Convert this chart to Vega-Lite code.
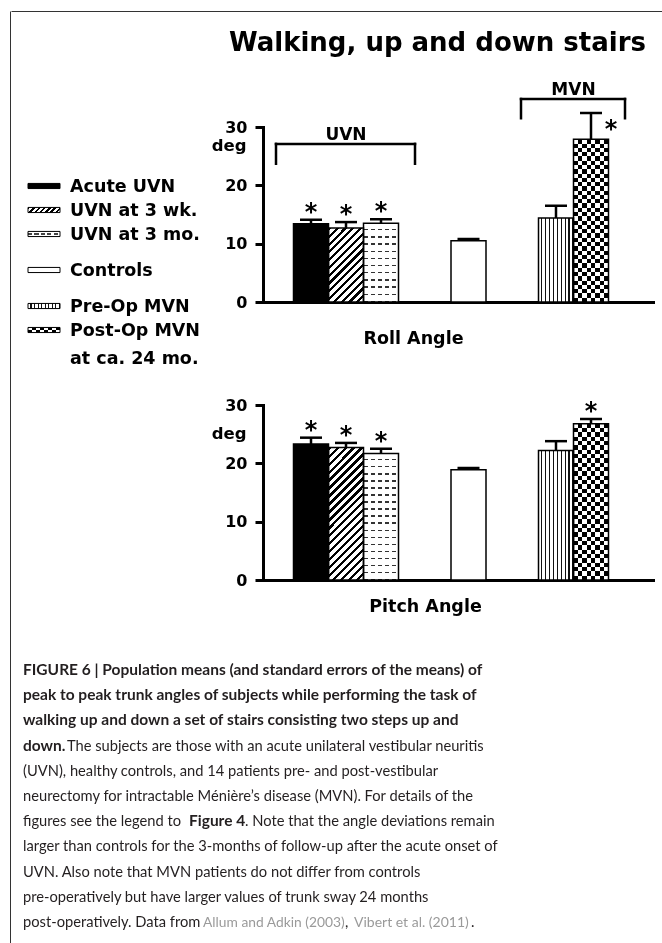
{
"$schema":"https://vega.github.io/schema/vega-lite/v6.json",
"background":"white",
"padding":{"left":9,"top":10,"right":0,"bottom":0},
"bounds":"flush",
"spacing":0,
"config":{"view":{"stroke":null},"axis":{"grid":false}},
"datasets":{
"bars":[
{"panel":"Roll","cond":"Acute UVN","mean":13.4,"upper":14.1,"sig":true},
{"panel":"Roll","cond":"UVN at 3 wk.","mean":12.7,"upper":13.7,"sig":true},
{"panel":"Roll","cond":"UVN at 3 mo.","mean":13.5,"upper":14.2,"sig":true},
{"panel":"Roll","cond":"Controls","mean":10.5,"upper":10.8,"sig":false},
{"panel":"Roll","cond":"Pre-Op MVN","mean":14.4,"upper":16.5,"sig":false},
{"panel":"Roll","cond":"Post-Op MVN","mean":27.9,"upper":32.4,"sig":true},
{"panel":"Pitch","cond":"Acute UVN","mean":23.3,"upper":24.4,"sig":true},
{"panel":"Pitch","cond":"UVN at 3 wk.","mean":22.7,"upper":23.5,"sig":true},
{"panel":"Pitch","cond":"UVN at 3 mo.","mean":21.7,"upper":22.5,"sig":true},
{"panel":"Pitch","cond":"Controls","mean":18.9,"upper":19.2,"sig":false},
{"panel":"Pitch","cond":"Pre-Op MVN","mean":22.2,"upper":23.8,"sig":false},
{"panel":"Pitch","cond":"Post-Op MVN","mean":26.8,"upper":27.6,"sig":true}
],
"brackets":[
{"label":"UVN","first":"Acute UVN","last":"UVN at 3 mo.","mid":"UVN at 3 wk.","top":27.1,"foot":23.7},
{"label":"MVN","first":"Pre-Op MVN","last":"Post-Op MVN","mid":"s17","top":34.8,"foot":31.5}
],
"legend":[
{"item":"Acute UVN","label":"Acute UVN"},
{"item":"UVN at 3 wk.","label":"UVN at 3 wk."},
{"item":"UVN at 3 mo.","label":"UVN at 3 mo."},
{"item":"Controls","label":"Controls"},
{"item":"Pre-Op MVN","label":"Pre-Op MVN"},
{"item":"Post-Op MVN","label":"Post-Op MVN\n\u00a0at ca. 24 mo."}
],
"caption":[
{"line":1,"seg":0,"kind":"head","text":"FIGURE 6 | Population means (and standard errors of the means) of"},
{"line":2,"seg":0,"kind":"head","text":"peak to peak trunk angles of subjects while performing the task of"},
{"line":3,"seg":0,"kind":"head","text":"walking up and down a set of stairs consisting two steps up and"},
{"line":4,"seg":0,"kind":"head","text":"down."},
{"line":4,"seg":1,"kind":"body","text":"The subjects are those with an acute unilateral vestibular neuritis"},
{"line":5,"seg":0,"kind":"body","text":"(UVN), healthy controls, and 14 patients pre- and post-vestibular"},
{"line":6,"seg":0,"kind":"body","text":"neurectomy for intractable Ménière’s disease (MVN). For details of the"},
{"line":7,"seg":0,"kind":"body","text":"figures see the legend to"},
{"line":7,"seg":1,"kind":"head","text":"Figure 4"},
{"line":7,"seg":2,"kind":"body","text":". Note that the angle deviations remain"},
{"line":8,"seg":0,"kind":"body","text":"larger than controls for the 3-months of follow-up after the acute onset of"},
{"line":9,"seg":0,"kind":"body","text":"UVN. Also note that MVN patients do not differ from controls"},
{"line":10,"seg":0,"kind":"body","text":"pre-operatively but have larger values of trunk sway 24 months"},
{"line":11,"seg":0,"kind":"body","text":"post-operatively. Data from"},
{"line":11,"seg":1,"kind":"ref","text":"Allum and Adkin (2003)"},
{"line":11,"seg":2,"kind":"body","text":","},
{"line":11,"seg":3,"kind":"ref","text":"Vibert et al. (2011)"},
{"line":11,"seg":4,"kind":"body","text":"."}
]
},
"hconcat":[
{"width":1,"height":933,"data":{"values":[]},"mark":{"type":"rule"},"encoding":{},"view":{"stroke":"#333","strokeWidth":1,"strokeDash":[0,935,933]}},
{"spacing":115,"bounds":"flush","vconcat":[
{"width":652,"height":1,"data":{"values":[]},"mark":{"type":"rule"},"encoding":{},"view":{"stroke":"#333","strokeWidth":1,"strokeDash":[652,656]}},
{"columns":2,"spacing":{"row":63,"column":186},"bounds":"flush","concat":[
{"width":66,"height":215,"data":{"name":"legend"},
"encoding":{"y":{"field":"item","type":"nominal","scale":{"type":"point","domain":["h0","h1","h2","h3","Acute UVN","g1","UVN at 3 wk.","g3","UVN at 3 mo.","g5","g6","Controls","g8","g9","Pre-Op MVN","g11","Post-Op MVN","h17"],"padding":0.458,"align":1},"axis":null}},
"layer":[
{"transform":[{"filter":"datum.item == 'Acute UVN'"}],"mark":{"type":"point","shape":"M-1,-0.16L1,-0.16L1,0.16L-1,0.16Z","size":1024,"filled":true,"opacity":1,"strokeWidth":0,"fill":"#000"}},
{"transform":[{"filter":"datum.item == 'UVN at 3 wk.'"}],"mark":{"type":"point","shape":"M-1,-0.16L1,-0.16L1,0.16L-1,0.16Z","size":1024,"filled":true,"opacity":1,"strokeWidth":0,"fill":{"gradient":"linear","x1":0,"y1":0,"x2":1.131,"y2":0.181,"stops":[{"offset":0,"color":"#000"},{"offset":0.0643,"color":"#000"},{"offset":0.0643,"color":"#fff"},{"offset":0.1429,"color":"#fff"},{"offset":0.1429,"color":"#000"},{"offset":0.2071,"color":"#000"},{"offset":0.2071,"color":"#fff"},{"offset":0.2857,"color":"#fff"},{"offset":0.2857,"color":"#000"},{"offset":0.35,"color":"#000"},{"offset":0.35,"color":"#fff"},{"offset":0.4286,"color":"#fff"},{"offset":0.4286,"color":"#000"},{"offset":0.4929,"color":"#000"},{"offset":0.4929,"color":"#fff"},{"offset":0.5714,"color":"#fff"},{"offset":0.5714,"color":"#000"},{"offset":0.6357,"color":"#000"},{"offset":0.6357,"color":"#fff"},{"offset":0.7143,"color":"#fff"},{"offset":0.7143,"color":"#000"},{"offset":0.7786,"color":"#000"},{"offset":0.7786,"color":"#fff"},{"offset":0.8571,"color":"#fff"},{"offset":0.8571,"color":"#000"},{"offset":0.9214,"color":"#000"},{"offset":0.9214,"color":"#fff"},{"offset":1,"color":"#fff"}]}}},
{"transform":[{"filter":"datum.item == 'UVN at 3 mo.'"}],"mark":{"type":"point","shape":"M-1,-0.16L1,-0.16L1,0.16L-1,0.16Z","size":1024,"filled":true,"opacity":1,"strokeWidth":0,"fill":{"gradient":"linear","x1":0,"y1":0,"x2":0,"y2":1,"stops":[{"offset":0,"color":"#fff"},{"offset":0.38,"color":"#fff"},{"offset":0.38,"color":"#444"},{"offset":0.62,"color":"#444"},{"offset":0.62,"color":"#fff"},{"offset":1,"color":"#fff"}]}}},
{"transform":[{"filter":"datum.item == 'UVN at 3 mo.'"}],"mark":{"type":"point","shape":"M-1,-0.16L1,-0.16L1,0.16L-1,0.16Z","size":1024,"filled":true,"opacity":1,"strokeWidth":0,"fill":{"gradient":"linear","x1":0,"y1":0,"x2":1,"y2":0,"stops":[{"offset":0,"color":"rgba(255,255,255,0)"},{"offset":0.13,"color":"rgba(255,255,255,0)"},{"offset":0.13,"color":"#fff"},{"offset":0.2,"color":"#fff"},{"offset":0.2,"color":"rgba(255,255,255,0)"},{"offset":0.33,"color":"rgba(255,255,255,0)"},{"offset":0.33,"color":"#fff"},{"offset":0.4,"color":"#fff"},{"offset":0.4,"color":"rgba(255,255,255,0)"},{"offset":0.53,"color":"rgba(255,255,255,0)"},{"offset":0.53,"color":"#fff"},{"offset":0.6,"color":"#fff"},{"offset":0.6,"color":"rgba(255,255,255,0)"},{"offset":0.73,"color":"rgba(255,255,255,0)"},{"offset":0.73,"color":"#fff"},{"offset":0.8,"color":"#fff"},{"offset":0.8,"color":"rgba(255,255,255,0)"},{"offset":0.93,"color":"rgba(255,255,255,0)"},{"offset":0.93,"color":"#fff"},{"offset":1,"color":"#fff"}]}}},
{"transform":[{"filter":"datum.item == 'Pre-Op MVN'"}],"mark":{"type":"point","shape":"M-1,-0.16L1,-0.16L1,0.16L-1,0.16Z","size":1024,"filled":true,"opacity":1,"strokeWidth":0,"fill":{"gradient":"linear","x1":0,"y1":0,"x2":1,"y2":0,"stops":[{"offset":0,"color":"#fff"},{"offset":0.0778,"color":"#fff"},{"offset":0.0778,"color":"#111"},{"offset":0.1111,"color":"#111"},{"offset":0.1111,"color":"#fff"},{"offset":0.1889,"color":"#fff"},{"offset":0.1889,"color":"#111"},{"offset":0.2222,"color":"#111"},{"offset":0.2222,"color":"#fff"},{"offset":0.3,"color":"#fff"},{"offset":0.3,"color":"#111"},{"offset":0.3333,"color":"#111"},{"offset":0.3333,"color":"#fff"},{"offset":0.4111,"color":"#fff"},{"offset":0.4111,"color":"#111"},{"offset":0.4444,"color":"#111"},{"offset":0.4444,"color":"#fff"},{"offset":0.5222,"color":"#fff"},{"offset":0.5222,"color":"#111"},{"offset":0.5556,"color":"#111"},{"offset":0.5556,"color":"#fff"},{"offset":0.6333,"color":"#fff"},{"offset":0.6333,"color":"#111"},{"offset":0.6667,"color":"#111"},{"offset":0.6667,"color":"#fff"},{"offset":0.7444,"color":"#fff"},{"offset":0.7444,"color":"#111"},{"offset":0.7778,"color":"#111"},{"offset":0.7778,"color":"#fff"},{"offset":0.8556,"color":"#fff"},{"offset":0.8556,"color":"#111"},{"offset":0.8889,"color":"#111"},{"offset":0.8889,"color":"#fff"},{"offset":0.9667,"color":"#fff"},{"offset":0.9667,"color":"#111"},{"offset":1,"color":"#111"}]}}},
{"transform":[{"filter":"datum.item == 'Post-Op MVN'"}],"mark":{"type":"point","shape":"M-1,-0.16L1,-0.16L1,0.16L-1,0.16Z","size":1024,"filled":true,"opacity":1,"strokeWidth":0,"fill":{"gradient":"linear","x1":0,"y1":0,"x2":1,"y2":0,"stops":[{"offset":0,"color":"#000"},{"offset":0.125,"color":"#000"},{"offset":0.125,"color":"#fff"},{"offset":0.25,"color":"#fff"},{"offset":0.25,"color":"#000"},{"offset":0.375,"color":"#000"},{"offset":0.375,"color":"#fff"},{"offset":0.5,"color":"#fff"},{"offset":0.5,"color":"#000"},{"offset":0.625,"color":"#000"},{"offset":0.625,"color":"#fff"},{"offset":0.75,"color":"#fff"},{"offset":0.75,"color":"#000"},{"offset":0.875,"color":"#000"},{"offset":0.875,"color":"#fff"},{"offset":1,"color":"#fff"}]}}},
{"transform":[{"filter":"datum.item == 'Post-Op MVN'"}],"mark":{"type":"point","shape":"M-1,-0.16L1,-0.16L1,0.16L-1,0.16Z","size":1024,"filled":true,"opacity":1,"strokeWidth":0,"blend":"difference","fill":{"gradient":"linear","x1":0,"y1":0,"x2":0,"y2":1,"stops":[{"offset":0,"color":"#fff"},{"offset":0.5,"color":"#fff"},{"offset":0.5,"color":"#000"},{"offset":1,"color":"#000"}]}}},
{"mark":{"type":"point","shape":"M-1,-0.16L1,-0.16L1,0.16L-1,0.16Z","size":1024,"filled":false,"opacity":1,"stroke":"#000","strokeWidth":1}},
{"mark":{"type":"text","align":"left","baseline":"top","dx":26,"dy":-8,"font":"DejaVu Sans","fontWeight":"bold","fontSize":17.5,"lineBreak":"\n","lineHeight":28,"color":"#000"},"encoding":{"text":{"field":"label"}}}
]},
{"width":390,"height":175,"data":{"name":"bars"},"transform":[{"filter":"datum.panel == 'Roll'"}],
"title":{"text":"Walking, up and down stairs","anchor":"end","frame":"group","offset":4,"dx":-7,"baseline":"alphabetic","font":"DejaVu Sans","fontSize":26,"fontWeight":"bold","color":"#000"},
"encoding":{
"x":{"field":"cond","type":"nominal","scale":{"domain":["s0","s1","Acute UVN","s3","UVN at 3 wk.","s5","UVN at 3 mo.","s7","s8","s9","s10","Controls","s12","s13","s14","s15","Pre-Op MVN","s17","Post-Op MVN","s19","s20","s21"],"paddingInner":0,"paddingOuter":0.143,"align":0.85},"axis":{"title":"Roll Angle","labels":false,"ticks":false,"domainColor":"#000","domainWidth":3,"domainCap":"square","titleX":150,"titleY":41,"titleAlign":"center","titleBaseline":"alphabetic","titleFont":"DejaVu Sans","titleFontSize":17.5,"titleFontWeight":"bold","titleColor":"#000","grid":false}},
"y":{"field":"mean","type":"quantitative","scale":{"domain":[0,30],"nice":false},"axis":{"orient":"left","values":[0,10,20,30],"title":"deg","titleAngle":0,"titleX":-17,"titleY":23,"titleAlign":"right","titleBaseline":"alphabetic","titleFont":"DejaVu Sans","titleFontSize":16.5,"titleFontWeight":"bold","titleColor":"#000","labelFont":"DejaVu Sans","labelFontSize":16,"labelFontWeight":"bold","labelColor":"#000","labelPadding":8,"tickSize":8,"tickWidth":3,"tickColor":"#000","domainColor":"#000","domainWidth":3,"domainCap":"square","grid":false}}
},
"layer":[
{"transform":[{"filter":"datum.cond == 'Acute UVN'"}],"mark":{"type":"bar","width":{"band":2},"fill":"#000"}},
{"transform":[{"filter":"datum.cond == 'UVN at 3 wk.'"}],"mark":{"type":"bar","width":{"band":2},"fill":{"gradient":"linear","x1":0,"y1":0,"x2":0.5693,"y2":1.2037,"stops":[{"offset":0,"color":"#000"},{"offset":0.0286,"color":"#000"},{"offset":0.0286,"color":"#fff"},{"offset":0.0714,"color":"#fff"},{"offset":0.0714,"color":"#000"},{"offset":0.1,"color":"#000"},{"offset":0.1,"color":"#fff"},{"offset":0.1429,"color":"#fff"},{"offset":0.1429,"color":"#000"},{"offset":0.1714,"color":"#000"},{"offset":0.1714,"color":"#fff"},{"offset":0.2143,"color":"#fff"},{"offset":0.2143,"color":"#000"},{"offset":0.2429,"color":"#000"},{"offset":0.2429,"color":"#fff"},{"offset":0.2857,"color":"#fff"},{"offset":0.2857,"color":"#000"},{"offset":0.3143,"color":"#000"},{"offset":0.3143,"color":"#fff"},{"offset":0.3571,"color":"#fff"},{"offset":0.3571,"color":"#000"},{"offset":0.3857,"color":"#000"},{"offset":0.3857,"color":"#fff"},{"offset":0.4286,"color":"#fff"},{"offset":0.4286,"color":"#000"},{"offset":0.4571,"color":"#000"},{"offset":0.4571,"color":"#fff"},{"offset":0.5,"color":"#fff"},{"offset":0.5,"color":"#000"},{"offset":0.5286,"color":"#000"},{"offset":0.5286,"color":"#fff"},{"offset":0.5714,"color":"#fff"},{"offset":0.5714,"color":"#000"},{"offset":0.6,"color":"#000"},{"offset":0.6,"color":"#fff"},{"offset":0.6429,"color":"#fff"},{"offset":0.6429,"color":"#000"},{"offset":0.6714,"color":"#000"},{"offset":0.6714,"color":"#fff"},{"offset":0.7143,"color":"#fff"},{"offset":0.7143,"color":"#000"},{"offset":0.7429,"color":"#000"},{"offset":0.7429,"color":"#fff"},{"offset":0.7857,"color":"#fff"},{"offset":0.7857,"color":"#000"},{"offset":0.8143,"color":"#000"},{"offset":0.8143,"color":"#fff"},{"offset":0.8571,"color":"#fff"},{"offset":0.8571,"color":"#000"},{"offset":0.8857,"color":"#000"},{"offset":0.8857,"color":"#fff"},{"offset":0.9286,"color":"#fff"},{"offset":0.9286,"color":"#000"},{"offset":0.9571,"color":"#000"},{"offset":0.9571,"color":"#fff"},{"offset":1,"color":"#fff"}]}}},
{"transform":[{"filter":"datum.cond == 'UVN at 3 mo.'"}],"mark":{"type":"bar","width":{"band":2},"fill":{"gradient":"linear","x1":0,"y1":0,"x2":0,"y2":1,"stops":[{"offset":0,"color":"#fff"},{"offset":0.0745,"color":"#fff"},{"offset":0.0745,"color":"#333"},{"offset":0.0909,"color":"#333"},{"offset":0.0909,"color":"#fff"},{"offset":0.1655,"color":"#fff"},{"offset":0.1655,"color":"#333"},{"offset":0.1818,"color":"#333"},{"offset":0.1818,"color":"#fff"},{"offset":0.2564,"color":"#fff"},{"offset":0.2564,"color":"#333"},{"offset":0.2727,"color":"#333"},{"offset":0.2727,"color":"#fff"},{"offset":0.3473,"color":"#fff"},{"offset":0.3473,"color":"#333"},{"offset":0.3636,"color":"#333"},{"offset":0.3636,"color":"#fff"},{"offset":0.4382,"color":"#fff"},{"offset":0.4382,"color":"#333"},{"offset":0.4545,"color":"#333"},{"offset":0.4545,"color":"#fff"},{"offset":0.5291,"color":"#fff"},{"offset":0.5291,"color":"#333"},{"offset":0.5455,"color":"#333"},{"offset":0.5455,"color":"#fff"},{"offset":0.62,"color":"#fff"},{"offset":0.62,"color":"#333"},{"offset":0.6364,"color":"#333"},{"offset":0.6364,"color":"#fff"},{"offset":0.7109,"color":"#fff"},{"offset":0.7109,"color":"#333"},{"offset":0.7273,"color":"#333"},{"offset":0.7273,"color":"#fff"},{"offset":0.8018,"color":"#fff"},{"offset":0.8018,"color":"#333"},{"offset":0.8182,"color":"#333"},{"offset":0.8182,"color":"#fff"},{"offset":0.8927,"color":"#fff"},{"offset":0.8927,"color":"#333"},{"offset":0.9091,"color":"#333"},{"offset":0.9091,"color":"#fff"},{"offset":0.9836,"color":"#fff"},{"offset":0.9836,"color":"#333"},{"offset":1,"color":"#333"}]}}},
{"transform":[{"filter":"datum.cond == 'UVN at 3 mo.'"}],"mark":{"type":"bar","width":{"band":2},"fill":{"gradient":"linear","x1":0,"y1":0,"x2":1,"y2":0,"stops":[{"offset":0,"color":"rgba(255,255,255,0)"},{"offset":0.13,"color":"rgba(255,255,255,0)"},{"offset":0.13,"color":"#fff"},{"offset":0.2,"color":"#fff"},{"offset":0.2,"color":"rgba(255,255,255,0)"},{"offset":0.33,"color":"rgba(255,255,255,0)"},{"offset":0.33,"color":"#fff"},{"offset":0.4,"color":"#fff"},{"offset":0.4,"color":"rgba(255,255,255,0)"},{"offset":0.53,"color":"rgba(255,255,255,0)"},{"offset":0.53,"color":"#fff"},{"offset":0.6,"color":"#fff"},{"offset":0.6,"color":"rgba(255,255,255,0)"},{"offset":0.73,"color":"rgba(255,255,255,0)"},{"offset":0.73,"color":"#fff"},{"offset":0.8,"color":"#fff"},{"offset":0.8,"color":"rgba(255,255,255,0)"},{"offset":0.93,"color":"rgba(255,255,255,0)"},{"offset":0.93,"color":"#fff"},{"offset":1,"color":"#fff"}]}}},
{"transform":[{"filter":"datum.cond == 'Controls'"}],"mark":{"type":"bar","width":{"band":2},"fill":"#fff"}},
{"transform":[{"filter":"datum.cond == 'Pre-Op MVN'"}],"mark":{"type":"bar","width":{"band":2},"fill":{"gradient":"linear","x1":0,"y1":0,"x2":1,"y2":0,"stops":[{"offset":0,"color":"#fff"},{"offset":0.0778,"color":"#fff"},{"offset":0.0778,"color":"#111"},{"offset":0.1111,"color":"#111"},{"offset":0.1111,"color":"#fff"},{"offset":0.1889,"color":"#fff"},{"offset":0.1889,"color":"#111"},{"offset":0.2222,"color":"#111"},{"offset":0.2222,"color":"#fff"},{"offset":0.3,"color":"#fff"},{"offset":0.3,"color":"#111"},{"offset":0.3333,"color":"#111"},{"offset":0.3333,"color":"#fff"},{"offset":0.4111,"color":"#fff"},{"offset":0.4111,"color":"#111"},{"offset":0.4444,"color":"#111"},{"offset":0.4444,"color":"#fff"},{"offset":0.5222,"color":"#fff"},{"offset":0.5222,"color":"#111"},{"offset":0.5556,"color":"#111"},{"offset":0.5556,"color":"#fff"},{"offset":0.6333,"color":"#fff"},{"offset":0.6333,"color":"#111"},{"offset":0.6667,"color":"#111"},{"offset":0.6667,"color":"#fff"},{"offset":0.7444,"color":"#fff"},{"offset":0.7444,"color":"#111"},{"offset":0.7778,"color":"#111"},{"offset":0.7778,"color":"#fff"},{"offset":0.8556,"color":"#fff"},{"offset":0.8556,"color":"#111"},{"offset":0.8889,"color":"#111"},{"offset":0.8889,"color":"#fff"},{"offset":0.9667,"color":"#fff"},{"offset":0.9667,"color":"#111"},{"offset":1,"color":"#111"}]}}},
{"transform":[{"filter":"datum.cond == 'Post-Op MVN'"}],"mark":{"type":"bar","width":{"band":2},"fill":{"gradient":"linear","x1":0,"y1":0,"x2":1,"y2":0,"stops":[{"offset":0,"color":"#000"},{"offset":0.125,"color":"#000"},{"offset":0.125,"color":"#fff"},{"offset":0.25,"color":"#fff"},{"offset":0.25,"color":"#000"},{"offset":0.375,"color":"#000"},{"offset":0.375,"color":"#fff"},{"offset":0.5,"color":"#fff"},{"offset":0.5,"color":"#000"},{"offset":0.625,"color":"#000"},{"offset":0.625,"color":"#fff"},{"offset":0.75,"color":"#fff"},{"offset":0.75,"color":"#000"},{"offset":0.875,"color":"#000"},{"offset":0.875,"color":"#fff"},{"offset":1,"color":"#fff"}]}}},
{"transform":[{"filter":"datum.cond == 'Post-Op MVN'"}],"mark":{"type":"bar","width":{"band":2},"blend":"difference","fill":{"gradient":"linear","x1":0,"y1":0,"x2":0,"y2":1,"stops":[{"offset":0,"color":"#fff"},{"offset":0.0263,"color":"#fff"},{"offset":0.0263,"color":"#000"},{"offset":0.0526,"color":"#000"},{"offset":0.0526,"color":"#fff"},{"offset":0.0789,"color":"#fff"},{"offset":0.0789,"color":"#000"},{"offset":0.1053,"color":"#000"},{"offset":0.1053,"color":"#fff"},{"offset":0.1316,"color":"#fff"},{"offset":0.1316,"color":"#000"},{"offset":0.1579,"color":"#000"},{"offset":0.1579,"color":"#fff"},{"offset":0.1842,"color":"#fff"},{"offset":0.1842,"color":"#000"},{"offset":0.2105,"color":"#000"},{"offset":0.2105,"color":"#fff"},{"offset":0.2368,"color":"#fff"},{"offset":0.2368,"color":"#000"},{"offset":0.2632,"color":"#000"},{"offset":0.2632,"color":"#fff"},{"offset":0.2895,"color":"#fff"},{"offset":0.2895,"color":"#000"},{"offset":0.3158,"color":"#000"},{"offset":0.3158,"color":"#fff"},{"offset":0.3421,"color":"#fff"},{"offset":0.3421,"color":"#000"},{"offset":0.3684,"color":"#000"},{"offset":0.3684,"color":"#fff"},{"offset":0.3947,"color":"#fff"},{"offset":0.3947,"color":"#000"},{"offset":0.4211,"color":"#000"},{"offset":0.4211,"color":"#fff"},{"offset":0.4474,"color":"#fff"},{"offset":0.4474,"color":"#000"},{"offset":0.4737,"color":"#000"},{"offset":0.4737,"color":"#fff"},{"offset":0.5,"color":"#fff"},{"offset":0.5,"color":"#000"},{"offset":0.5263,"color":"#000"},{"offset":0.5263,"color":"#fff"},{"offset":0.5526,"color":"#fff"},{"offset":0.5526,"color":"#000"},{"offset":0.5789,"color":"#000"},{"offset":0.5789,"color":"#fff"},{"offset":0.6053,"color":"#fff"},{"offset":0.6053,"color":"#000"},{"offset":0.6316,"color":"#000"},{"offset":0.6316,"color":"#fff"},{"offset":0.6579,"color":"#fff"},{"offset":0.6579,"color":"#000"},{"offset":0.6842,"color":"#000"},{"offset":0.6842,"color":"#fff"},{"offset":0.7105,"color":"#fff"},{"offset":0.7105,"color":"#000"},{"offset":0.7368,"color":"#000"},{"offset":0.7368,"color":"#fff"},{"offset":0.7632,"color":"#fff"},{"offset":0.7632,"color":"#000"},{"offset":0.7895,"color":"#000"},{"offset":0.7895,"color":"#fff"},{"offset":0.8158,"color":"#fff"},{"offset":0.8158,"color":"#000"},{"offset":0.8421,"color":"#000"},{"offset":0.8421,"color":"#fff"},{"offset":0.8684,"color":"#fff"},{"offset":0.8684,"color":"#000"},{"offset":0.8947,"color":"#000"},{"offset":0.8947,"color":"#fff"},{"offset":0.9211,"color":"#fff"},{"offset":0.9211,"color":"#000"},{"offset":0.9474,"color":"#000"},{"offset":0.9474,"color":"#fff"},{"offset":0.9737,"color":"#fff"},{"offset":0.9737,"color":"#000"},{"offset":1,"color":"#000"}]}}},
{"mark":{"type":"bar","width":{"band":2},"filled":false,"stroke":"#000","strokeWidth":1.5}},
{"mark":{"type":"rule","strokeWidth":2.5,"color":"#000"},"encoding":{"y2":{"field":"upper"}}},
{"mark":{"type":"tick","size":22,"thickness":2.5,"color":"#000","opacity":1},"encoding":{"y":{"field":"upper","type":"quantitative","scale":{"domain":[0,30],"nice":false}}}},
{"transform":[{"filter":"datum.sig && datum.cond != 'Post-Op MVN'"}],"mark":{"type":"text","text":"*","font":"DejaVu Sans","fontWeight":"bold","fontSize":24,"baseline":"alphabetic","color":"#000"},"encoding":{"y":{"field":"upper","type":"quantitative","scale":{"domain":[0,30],"nice":false}}}},
{"transform":[{"filter":"datum.sig && datum.cond == 'Post-Op MVN'"}],"mark":{"type":"text","text":"*","font":"DejaVu Sans","fontWeight":"bold","fontSize":24,"baseline":"alphabetic","dx":20,"dy":24,"color":"#000"},"encoding":{"y":{"field":"upper","type":"quantitative","scale":{"domain":[0,30],"nice":false}}}},
{"data":{"name":"brackets"},"mark":{"type":"rule","strokeWidth":2.5,"color":"#000","xOffset":-35,"x2Offset":34,"strokeCap":"square"},"encoding":{"x":{"field":"first","type":"nominal","scale":{"domain":["s0","s1","Acute UVN","s3","UVN at 3 wk.","s5","UVN at 3 mo.","s7","s8","s9","s10","Controls","s12","s13","s14","s15","Pre-Op MVN","s17","Post-Op MVN","s19","s20","s21"],"paddingInner":0,"paddingOuter":0.143,"align":0.85}},"x2":{"field":"last"},"y":{"field":"top","type":"quantitative","scale":{"domain":[0,30],"nice":false}}}},
{"data":{"name":"brackets"},"mark":{"type":"rule","strokeWidth":2.5,"color":"#000","xOffset":-35,"strokeCap":"square"},"encoding":{"x":{"field":"first","type":"nominal","scale":{"domain":["s0","s1","Acute UVN","s3","UVN at 3 wk.","s5","UVN at 3 mo.","s7","s8","s9","s10","Controls","s12","s13","s14","s15","Pre-Op MVN","s17","Post-Op MVN","s19","s20","s21"],"paddingInner":0,"paddingOuter":0.143,"align":0.85}},"y":{"field":"top","type":"quantitative","scale":{"domain":[0,30],"nice":false}},"y2":{"field":"foot"}}},
{"data":{"name":"brackets"},"mark":{"type":"rule","strokeWidth":2.5,"color":"#000","xOffset":34,"strokeCap":"square"},"encoding":{"x":{"field":"last","type":"nominal","scale":{"domain":["s0","s1","Acute UVN","s3","UVN at 3 wk.","s5","UVN at 3 mo.","s7","s8","s9","s10","Controls","s12","s13","s14","s15","Pre-Op MVN","s17","Post-Op MVN","s19","s20","s21"],"paddingInner":0,"paddingOuter":0.143,"align":0.85}},"y":{"field":"top","type":"quantitative","scale":{"domain":[0,30],"nice":false}},"y2":{"field":"foot"}}},
{"data":{"name":"brackets"},"mark":{"type":"text","dy":-4,"baseline":"alphabetic","font":"DejaVu Sans","fontWeight":"bold","fontSize":17,"color":"#000"},"encoding":{"text":{"field":"label"},"x":{"field":"mid","type":"nominal","scale":{"domain":["s0","s1","Acute UVN","s3","UVN at 3 wk.","s5","UVN at 3 mo.","s7","s8","s9","s10","Controls","s12","s13","s14","s15","Pre-Op MVN","s17","Post-Op MVN","s19","s20","s21"],"paddingInner":0,"paddingOuter":0.143,"align":0.85}},"y":{"field":"top","type":"quantitative","scale":{"domain":[0,30],"nice":false}}}}
]},
{"width":1,"height":1,"data":{"values":[]},"mark":{"type":"rule"},"encoding":{}},
{"width":390,"height":175,"data":{"name":"bars"},"transform":[{"filter":"datum.panel == 'Pitch'"}],
"encoding":{
"x":{"field":"cond","type":"nominal","scale":{"domain":["s0","s1","Acute UVN","s3","UVN at 3 wk.","s5","UVN at 3 mo.","s7","s8","s9","s10","Controls","s12","s13","s14","s15","Pre-Op MVN","s17","Post-Op MVN","s19","s20","s21"],"paddingInner":0,"paddingOuter":0.143,"align":0.85},"axis":{"title":"Pitch Angle","labels":false,"ticks":false,"domainColor":"#000","domainWidth":3,"domainCap":"square","titleX":162,"titleY":31,"titleAlign":"center","titleBaseline":"alphabetic","titleFont":"DejaVu Sans","titleFontSize":17.5,"titleFontWeight":"bold","titleColor":"#000","grid":false}},
"y":{"field":"mean","type":"quantitative","scale":{"domain":[0,30],"nice":false},"axis":{"orient":"left","values":[0,10,20,30],"title":"deg","titleAngle":0,"titleX":-17,"titleY":33,"titleAlign":"right","titleBaseline":"alphabetic","titleFont":"DejaVu Sans","titleFontSize":16.5,"titleFontWeight":"bold","titleColor":"#000","labelFont":"DejaVu Sans","labelFontSize":16,"labelFontWeight":"bold","labelColor":"#000","labelPadding":8,"tickSize":8,"tickWidth":3,"tickColor":"#000","domainColor":"#000","domainWidth":3,"domainCap":"square","grid":false}}
},
"layer":[
{"transform":[{"filter":"datum.cond == 'Acute UVN'"}],"mark":{"type":"bar","width":{"band":2},"fill":"#000"}},
{"transform":[{"filter":"datum.cond == 'UVN at 3 wk.'"}],"mark":{"type":"bar","width":{"band":2},"fill":{"gradient":"linear","x1":0,"y1":0,"x2":0.3127,"y2":1.1818,"stops":[{"offset":0,"color":"#000"},{"offset":0.019,"color":"#000"},{"offset":0.019,"color":"#fff"},{"offset":0.0476,"color":"#fff"},{"offset":0.0476,"color":"#000"},{"offset":0.0667,"color":"#000"},{"offset":0.0667,"color":"#fff"},{"offset":0.0952,"color":"#fff"},{"offset":0.0952,"color":"#000"},{"offset":0.1143,"color":"#000"},{"offset":0.1143,"color":"#fff"},{"offset":0.1429,"color":"#fff"},{"offset":0.1429,"color":"#000"},{"offset":0.1619,"color":"#000"},{"offset":0.1619,"color":"#fff"},{"offset":0.1905,"color":"#fff"},{"offset":0.1905,"color":"#000"},{"offset":0.2095,"color":"#000"},{"offset":0.2095,"color":"#fff"},{"offset":0.2381,"color":"#fff"},{"offset":0.2381,"color":"#000"},{"offset":0.2571,"color":"#000"},{"offset":0.2571,"color":"#fff"},{"offset":0.2857,"color":"#fff"},{"offset":0.2857,"color":"#000"},{"offset":0.3048,"color":"#000"},{"offset":0.3048,"color":"#fff"},{"offset":0.3333,"color":"#fff"},{"offset":0.3333,"color":"#000"},{"offset":0.3524,"color":"#000"},{"offset":0.3524,"color":"#fff"},{"offset":0.381,"color":"#fff"},{"offset":0.381,"color":"#000"},{"offset":0.4,"color":"#000"},{"offset":0.4,"color":"#fff"},{"offset":0.4286,"color":"#fff"},{"offset":0.4286,"color":"#000"},{"offset":0.4476,"color":"#000"},{"offset":0.4476,"color":"#fff"},{"offset":0.4762,"color":"#fff"},{"offset":0.4762,"color":"#000"},{"offset":0.4952,"color":"#000"},{"offset":0.4952,"color":"#fff"},{"offset":0.5238,"color":"#fff"},{"offset":0.5238,"color":"#000"},{"offset":0.5429,"color":"#000"},{"offset":0.5429,"color":"#fff"},{"offset":0.5714,"color":"#fff"},{"offset":0.5714,"color":"#000"},{"offset":0.5905,"color":"#000"},{"offset":0.5905,"color":"#fff"},{"offset":0.619,"color":"#fff"},{"offset":0.619,"color":"#000"},{"offset":0.6381,"color":"#000"},{"offset":0.6381,"color":"#fff"},{"offset":0.6667,"color":"#fff"},{"offset":0.6667,"color":"#000"},{"offset":0.6857,"color":"#000"},{"offset":0.6857,"color":"#fff"},{"offset":0.7143,"color":"#fff"},{"offset":0.7143,"color":"#000"},{"offset":0.7333,"color":"#000"},{"offset":0.7333,"color":"#fff"},{"offset":0.7619,"color":"#fff"},{"offset":0.7619,"color":"#000"},{"offset":0.781,"color":"#000"},{"offset":0.781,"color":"#fff"},{"offset":0.8095,"color":"#fff"},{"offset":0.8095,"color":"#000"},{"offset":0.8286,"color":"#000"},{"offset":0.8286,"color":"#fff"},{"offset":0.8571,"color":"#fff"},{"offset":0.8571,"color":"#000"},{"offset":0.8762,"color":"#000"},{"offset":0.8762,"color":"#fff"},{"offset":0.9048,"color":"#fff"},{"offset":0.9048,"color":"#000"},{"offset":0.9238,"color":"#000"},{"offset":0.9238,"color":"#fff"},{"offset":0.9524,"color":"#fff"},{"offset":0.9524,"color":"#000"},{"offset":0.9714,"color":"#000"},{"offset":0.9714,"color":"#fff"},{"offset":1,"color":"#fff"}]}}},
{"transform":[{"filter":"datum.cond == 'UVN at 3 mo.'"}],"mark":{"type":"bar","width":{"band":2},"fill":{"gradient":"linear","x1":0,"y1":0,"x2":0,"y2":1,"stops":[{"offset":0,"color":"#fff"},{"offset":0.0456,"color":"#fff"},{"offset":0.0456,"color":"#333"},{"offset":0.0556,"color":"#333"},{"offset":0.0556,"color":"#fff"},{"offset":0.1011,"color":"#fff"},{"offset":0.1011,"color":"#333"},{"offset":0.1111,"color":"#333"},{"offset":0.1111,"color":"#fff"},{"offset":0.1567,"color":"#fff"},{"offset":0.1567,"color":"#333"},{"offset":0.1667,"color":"#333"},{"offset":0.1667,"color":"#fff"},{"offset":0.2122,"color":"#fff"},{"offset":0.2122,"color":"#333"},{"offset":0.2222,"color":"#333"},{"offset":0.2222,"color":"#fff"},{"offset":0.2678,"color":"#fff"},{"offset":0.2678,"color":"#333"},{"offset":0.2778,"color":"#333"},{"offset":0.2778,"color":"#fff"},{"offset":0.3233,"color":"#fff"},{"offset":0.3233,"color":"#333"},{"offset":0.3333,"color":"#333"},{"offset":0.3333,"color":"#fff"},{"offset":0.3789,"color":"#fff"},{"offset":0.3789,"color":"#333"},{"offset":0.3889,"color":"#333"},{"offset":0.3889,"color":"#fff"},{"offset":0.4344,"color":"#fff"},{"offset":0.4344,"color":"#333"},{"offset":0.4444,"color":"#333"},{"offset":0.4444,"color":"#fff"},{"offset":0.49,"color":"#fff"},{"offset":0.49,"color":"#333"},{"offset":0.5,"color":"#333"},{"offset":0.5,"color":"#fff"},{"offset":0.5456,"color":"#fff"},{"offset":0.5456,"color":"#333"},{"offset":0.5556,"color":"#333"},{"offset":0.5556,"color":"#fff"},{"offset":0.6011,"color":"#fff"},{"offset":0.6011,"color":"#333"},{"offset":0.6111,"color":"#333"},{"offset":0.6111,"color":"#fff"},{"offset":0.6567,"color":"#fff"},{"offset":0.6567,"color":"#333"},{"offset":0.6667,"color":"#333"},{"offset":0.6667,"color":"#fff"},{"offset":0.7122,"color":"#fff"},{"offset":0.7122,"color":"#333"},{"offset":0.7222,"color":"#333"},{"offset":0.7222,"color":"#fff"},{"offset":0.7678,"color":"#fff"},{"offset":0.7678,"color":"#333"},{"offset":0.7778,"color":"#333"},{"offset":0.7778,"color":"#fff"},{"offset":0.8233,"color":"#fff"},{"offset":0.8233,"color":"#333"},{"offset":0.8333,"color":"#333"},{"offset":0.8333,"color":"#fff"},{"offset":0.8789,"color":"#fff"},{"offset":0.8789,"color":"#333"},{"offset":0.8889,"color":"#333"},{"offset":0.8889,"color":"#fff"},{"offset":0.9344,"color":"#fff"},{"offset":0.9344,"color":"#333"},{"offset":0.9444,"color":"#333"},{"offset":0.9444,"color":"#fff"},{"offset":0.99,"color":"#fff"},{"offset":0.99,"color":"#333"},{"offset":1,"color":"#333"}]}}},
{"transform":[{"filter":"datum.cond == 'UVN at 3 mo.'"}],"mark":{"type":"bar","width":{"band":2},"fill":{"gradient":"linear","x1":0,"y1":0,"x2":1,"y2":0,"stops":[{"offset":0,"color":"rgba(255,255,255,0)"},{"offset":0.13,"color":"rgba(255,255,255,0)"},{"offset":0.13,"color":"#fff"},{"offset":0.2,"color":"#fff"},{"offset":0.2,"color":"rgba(255,255,255,0)"},{"offset":0.33,"color":"rgba(255,255,255,0)"},{"offset":0.33,"color":"#fff"},{"offset":0.4,"color":"#fff"},{"offset":0.4,"color":"rgba(255,255,255,0)"},{"offset":0.53,"color":"rgba(255,255,255,0)"},{"offset":0.53,"color":"#fff"},{"offset":0.6,"color":"#fff"},{"offset":0.6,"color":"rgba(255,255,255,0)"},{"offset":0.73,"color":"rgba(255,255,255,0)"},{"offset":0.73,"color":"#fff"},{"offset":0.8,"color":"#fff"},{"offset":0.8,"color":"rgba(255,255,255,0)"},{"offset":0.93,"color":"rgba(255,255,255,0)"},{"offset":0.93,"color":"#fff"},{"offset":1,"color":"#fff"}]}}},
{"transform":[{"filter":"datum.cond == 'Controls'"}],"mark":{"type":"bar","width":{"band":2},"fill":"#fff"}},
{"transform":[{"filter":"datum.cond == 'Pre-Op MVN'"}],"mark":{"type":"bar","width":{"band":2},"fill":{"gradient":"linear","x1":0,"y1":0,"x2":1,"y2":0,"stops":[{"offset":0,"color":"#fff"},{"offset":0.0778,"color":"#fff"},{"offset":0.0778,"color":"#111"},{"offset":0.1111,"color":"#111"},{"offset":0.1111,"color":"#fff"},{"offset":0.1889,"color":"#fff"},{"offset":0.1889,"color":"#111"},{"offset":0.2222,"color":"#111"},{"offset":0.2222,"color":"#fff"},{"offset":0.3,"color":"#fff"},{"offset":0.3,"color":"#111"},{"offset":0.3333,"color":"#111"},{"offset":0.3333,"color":"#fff"},{"offset":0.4111,"color":"#fff"},{"offset":0.4111,"color":"#111"},{"offset":0.4444,"color":"#111"},{"offset":0.4444,"color":"#fff"},{"offset":0.5222,"color":"#fff"},{"offset":0.5222,"color":"#111"},{"offset":0.5556,"color":"#111"},{"offset":0.5556,"color":"#fff"},{"offset":0.6333,"color":"#fff"},{"offset":0.6333,"color":"#111"},{"offset":0.6667,"color":"#111"},{"offset":0.6667,"color":"#fff"},{"offset":0.7444,"color":"#fff"},{"offset":0.7444,"color":"#111"},{"offset":0.7778,"color":"#111"},{"offset":0.7778,"color":"#fff"},{"offset":0.8556,"color":"#fff"},{"offset":0.8556,"color":"#111"},{"offset":0.8889,"color":"#111"},{"offset":0.8889,"color":"#fff"},{"offset":0.9667,"color":"#fff"},{"offset":0.9667,"color":"#111"},{"offset":1,"color":"#111"}]}}},
{"transform":[{"filter":"datum.cond == 'Post-Op MVN'"}],"mark":{"type":"bar","width":{"band":2},"fill":{"gradient":"linear","x1":0,"y1":0,"x2":1,"y2":0,"stops":[{"offset":0,"color":"#000"},{"offset":0.125,"color":"#000"},{"offset":0.125,"color":"#fff"},{"offset":0.25,"color":"#fff"},{"offset":0.25,"color":"#000"},{"offset":0.375,"color":"#000"},{"offset":0.375,"color":"#fff"},{"offset":0.5,"color":"#fff"},{"offset":0.5,"color":"#000"},{"offset":0.625,"color":"#000"},{"offset":0.625,"color":"#fff"},{"offset":0.75,"color":"#fff"},{"offset":0.75,"color":"#000"},{"offset":0.875,"color":"#000"},{"offset":0.875,"color":"#fff"},{"offset":1,"color":"#fff"}]}}},
{"transform":[{"filter":"datum.cond == 'Post-Op MVN'"}],"mark":{"type":"bar","width":{"band":2},"blend":"difference","fill":{"gradient":"linear","x1":0,"y1":0,"x2":0,"y2":1,"stops":[{"offset":0,"color":"#fff"},{"offset":0.0278,"color":"#fff"},{"offset":0.0278,"color":"#000"},{"offset":0.0556,"color":"#000"},{"offset":0.0556,"color":"#fff"},{"offset":0.0833,"color":"#fff"},{"offset":0.0833,"color":"#000"},{"offset":0.1111,"color":"#000"},{"offset":0.1111,"color":"#fff"},{"offset":0.1389,"color":"#fff"},{"offset":0.1389,"color":"#000"},{"offset":0.1667,"color":"#000"},{"offset":0.1667,"color":"#fff"},{"offset":0.1944,"color":"#fff"},{"offset":0.1944,"color":"#000"},{"offset":0.2222,"color":"#000"},{"offset":0.2222,"color":"#fff"},{"offset":0.25,"color":"#fff"},{"offset":0.25,"color":"#000"},{"offset":0.2778,"color":"#000"},{"offset":0.2778,"color":"#fff"},{"offset":0.3056,"color":"#fff"},{"offset":0.3056,"color":"#000"},{"offset":0.3333,"color":"#000"},{"offset":0.3333,"color":"#fff"},{"offset":0.3611,"color":"#fff"},{"offset":0.3611,"color":"#000"},{"offset":0.3889,"color":"#000"},{"offset":0.3889,"color":"#fff"},{"offset":0.4167,"color":"#fff"},{"offset":0.4167,"color":"#000"},{"offset":0.4444,"color":"#000"},{"offset":0.4444,"color":"#fff"},{"offset":0.4722,"color":"#fff"},{"offset":0.4722,"color":"#000"},{"offset":0.5,"color":"#000"},{"offset":0.5,"color":"#fff"},{"offset":0.5278,"color":"#fff"},{"offset":0.5278,"color":"#000"},{"offset":0.5556,"color":"#000"},{"offset":0.5556,"color":"#fff"},{"offset":0.5833,"color":"#fff"},{"offset":0.5833,"color":"#000"},{"offset":0.6111,"color":"#000"},{"offset":0.6111,"color":"#fff"},{"offset":0.6389,"color":"#fff"},{"offset":0.6389,"color":"#000"},{"offset":0.6667,"color":"#000"},{"offset":0.6667,"color":"#fff"},{"offset":0.6944,"color":"#fff"},{"offset":0.6944,"color":"#000"},{"offset":0.7222,"color":"#000"},{"offset":0.7222,"color":"#fff"},{"offset":0.75,"color":"#fff"},{"offset":0.75,"color":"#000"},{"offset":0.7778,"color":"#000"},{"offset":0.7778,"color":"#fff"},{"offset":0.8056,"color":"#fff"},{"offset":0.8056,"color":"#000"},{"offset":0.8333,"color":"#000"},{"offset":0.8333,"color":"#fff"},{"offset":0.8611,"color":"#fff"},{"offset":0.8611,"color":"#000"},{"offset":0.8889,"color":"#000"},{"offset":0.8889,"color":"#fff"},{"offset":0.9167,"color":"#fff"},{"offset":0.9167,"color":"#000"},{"offset":0.9444,"color":"#000"},{"offset":0.9444,"color":"#fff"},{"offset":0.9722,"color":"#fff"},{"offset":0.9722,"color":"#000"},{"offset":1,"color":"#000"}]}}},
{"mark":{"type":"bar","width":{"band":2},"filled":false,"stroke":"#000","strokeWidth":1.5}},
{"mark":{"type":"rule","strokeWidth":2.5,"color":"#000"},"encoding":{"y2":{"field":"upper"}}},
{"mark":{"type":"tick","size":22,"thickness":2.5,"color":"#000","opacity":1},"encoding":{"y":{"field":"upper","type":"quantitative","scale":{"domain":[0,30],"nice":false}}}},
{"transform":[{"filter":"datum.sig"}],"mark":{"type":"text","text":"*","font":"DejaVu Sans","fontWeight":"bold","fontSize":24,"baseline":"alphabetic","color":"#000"},"encoding":{"y":{"field":"upper","type":"quantitative","scale":{"domain":[0,30],"nice":false}}}}
]},
{"width":24,"height":300,"data":{"name":"caption"},
"encoding":{"y":{"field":"line","type":"ordinal","scale":{"type":"point","padding":0.952,"align":0.667},"axis":null},"text":{"field":"text"}},
"layer":[
{"transform":[{"filter":"datum.seg == 0 && datum.kind == 'head'"}],"mark":{"type":"text","align":"left","baseline":"alphabetic","font":"Lato","fontWeight":"bold","fontSize":15.5,"color":"#231f20"}},
{"transform":[{"filter":"datum.seg == 0 && datum.kind == 'body'"}],"mark":{"type":"text","align":"left","baseline":"alphabetic","font":"Lato","fontSize":14.7,"color":"#231f20"}},
{"transform":[{"filter":"datum.line == 4 && datum.seg == 1"}],"mark":{"type":"text","align":"left","baseline":"alphabetic","dx":44,"font":"Lato","fontSize":14.7,"color":"#231f20"}},
{"transform":[{"filter":"datum.line == 7 && datum.seg == 1"}],"mark":{"type":"text","align":"left","baseline":"alphabetic","dx":166,"font":"Lato","fontWeight":"bold","fontSize":15.5,"color":"#231f20"}},
{"transform":[{"filter":"datum.line == 7 && datum.seg == 2"}],"mark":{"type":"text","align":"left","baseline":"alphabetic","dx":222,"font":"Lato","fontSize":14.7,"color":"#231f20"}},
{"transform":[{"filter":"datum.line == 11 && datum.seg == 1"}],"mark":{"type":"text","align":"left","baseline":"alphabetic","dx":180,"font":"Lato","fontSize":13.8,"color":"#9a9a9a"}},
{"transform":[{"filter":"datum.line == 11 && datum.seg == 2"}],"mark":{"type":"text","align":"left","baseline":"alphabetic","dx":322,"font":"Lato","fontSize":14.7,"color":"#231f20"}},
{"transform":[{"filter":"datum.line == 11 && datum.seg == 3"}],"mark":{"type":"text","align":"left","baseline":"alphabetic","dx":331,"font":"Lato","fontSize":14,"color":"#9a9a9a"}},
{"transform":[{"filter":"datum.line == 11 && datum.seg == 4"}],"mark":{"type":"text","align":"left","baseline":"alphabetic","dx":448,"font":"Lato","fontSize":14.7,"color":"#231f20"}}
]}
]}
]}
]
}
